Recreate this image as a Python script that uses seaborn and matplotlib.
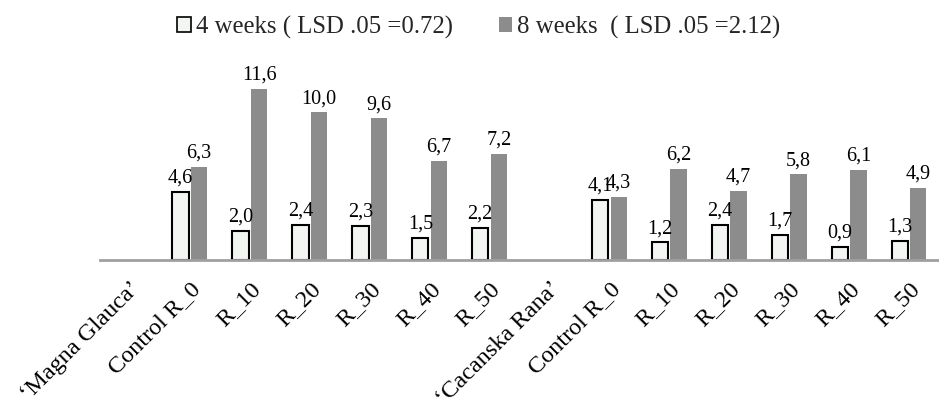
import matplotlib
matplotlib.use("Agg")
import matplotlib.pyplot as plt
from matplotlib.patches import Patch
import seaborn as sns
import pandas as pd

categories = ["MG", "MG_R0", "MG_R10", "MG_R20", "MG_R30", "MG_R40", "MG_R50",
              "CR", "CR_R0", "CR_R10", "CR_R20", "CR_R30", "CR_R40", "CR_R50"]
tick_labels = ["\u2018Magna Glauca\u2019", "Control R_0", "R_10", "R_20", "R_30", "R_40", "R_50",
               "\u2018Cacanska Rana\u2019", "Control R_0", "R_10", "R_20", "R_30", "R_40", "R_50"]
bar_categories = ["MG_R0", "MG_R10", "MG_R20", "MG_R30", "MG_R40", "MG_R50",
                  "CR_R0", "CR_R10", "CR_R20", "CR_R30", "CR_R40", "CR_R50"]
weeks4 = [4.6, 2.0, 2.4, 2.3, 1.5, 2.2, 4.1, 1.2, 2.4, 1.7, 0.9, 1.3]
weeks8 = [6.3, 11.6, 10.0, 9.6, 6.7, 7.2, 4.3, 6.2, 4.7, 5.8, 6.1, 4.9]
series = ["4 weeks ( LSD .05 =0.72)", "8 weeks  ( LSD .05 =2.12)"]
colors = ["#f3f5f3", "#8c8c8c"]

df = pd.DataFrame({
    "cat": bar_categories * 2,
    "value": weeks4 + weeks8,
    "series": [series[0]] * len(weeks4) + [series[1]] * len(weeks8),
})

sns.set_theme(style="white")
plt.rcParams["font.family"] = ["Liberation Serif", "DejaVu Serif"]

fig = plt.figure(figsize=(9.39, 4.05), dpi=100)
ax = fig.add_axes([100 / 939, (405 - 260) / 405, 839 / 939, 200 / 405])

sns.barplot(data=df, x="cat", y="value", hue="series", order=categories,
            hue_order=series, palette=colors, width=0.62, gap=0.12,
            ax=ax, legend=False, errorbar=None, saturation=1)

containers = ax.containers
for bar in containers[0]:
    bar.set_edgecolor("black")
    bar.set_linewidth(1.5)
for bar in containers[1]:
    bar.set_edgecolor("none")

fmt = lambda v: f"{v:.1f}".replace(".", ",")
for c in containers:
    ax.bar_label(c, fmt=fmt, padding=3, fontsize=14.5, color="black")

ax.set_xlim(-0.5, len(categories) - 0.5)
ax.set_ylim(0, 200 / 14.75)
ax.set_xlabel("")
ax.set_ylabel("")
ax.set_yticks([])
ax.set_xticks(range(len(categories)))
ax.set_xticklabels(tick_labels, rotation=45, ha="right", rotation_mode="anchor",
                   fontsize=17.5, color="black")
ax.tick_params(axis="x", length=0, pad=13)
for s in ["top", "right", "left"]:
    ax.spines[s].set_visible(False)
ax.spines["bottom"].set_color("#a0a0a0")
ax.spines["bottom"].set_linewidth(2)
ax.patch.set_alpha(0)

handles = [Patch(facecolor=colors[0], edgecolor="black", linewidth=1.2),
           Patch(facecolor=colors[1], edgecolor="none")]
fig.legend(handles, series, loc="center", bbox_to_anchor=(479 / 939, 1 - 27 / 405),
           ncol=2, frameon=False, fontsize=17.8, handlelength=0.55, handleheight=0.55,
           handletextpad=0.2, columnspacing=1.85, borderpad=0, borderaxespad=0)

fig.savefig("out.png", dpi=100)
